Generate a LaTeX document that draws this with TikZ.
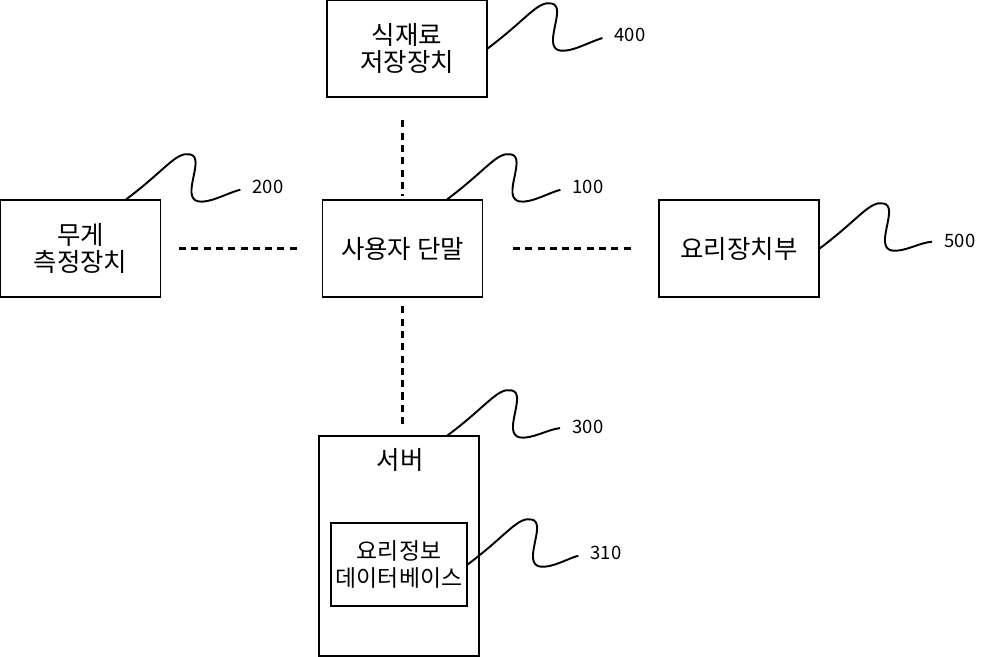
\documentclass[tikz,border=0pt]{standalone}
\usepackage{fontspec}
\setmainfont{Noto Sans CJK KR}
\usetikzlibrary{calc}

\begin{document}
\begin{tikzpicture}[
    x=0.02cm, y=-0.02cm,
    font=\fontsize{14.5}{15.5}\selectfont,
    box/.style={rectangle,draw,line width=0.7pt,align=center,minimum width=3.2cm,minimum height=1.94cm},
    num/.style={font=\fontsize{10.5}{12}\selectfont,inner sep=1pt},
    dashline/.style={line width=1.2pt,dash pattern=on 4pt off 3pt},
    leader/.style={line width=1.1pt,shorten >=6pt,
        to path={(\tikztostart) .. controls ($(\tikztostart)+(40,-30)$) and ($(\tikztostart)+(50,-48)$)
            .. ($(\tikztostart)+(64,-45)$) .. controls ($(\tikztostart)+(80,-42)$) and ($(\tikztostart)+(54,-2)$)
            .. ($(\tikztostart)+(72,2)$) .. controls ($(\tikztostart)+(84,4)$) and ($(\tikztostart)+(100,-6)$)
            .. (\tikztotarget)}}
]
\useasboundingbox (0,0) rectangle (986,656);

% 가운데 단말과 주변 장치
\node[box] (term) at (402.5,248.5) {사용자 단말};
\node[box] (stor) at (407,48.5) {식재료\\저장장치};
\node[box] (wgt) at (80.5,248.5) {무게\\측정장치};
\node[box] (cook) at (739,248.5) {요리장치부};

% 서버와 안쪽 데이터베이스
\node[box,minimum height=4.4cm] (srv) at (399,546) {};
\node (srvtxt) at (400,460) {서버};
\node[box,minimum width=2.72cm,minimum height=1.66cm,inner xsep=1pt,
    font=\fontsize{13}{15.5}\selectfont] (db) at (399,564.5) {요리정보\\데이터베이스};

% 참조 번호
\node[num] (n400) at (630,35) {400};
\node[num] (n200) at (268,187) {200};
\node[num] (n100) at (588,187) {100};
\node[num] (n500) at (960,241) {500};
\node[num] (n300) at (588,427) {300};
\node[num] (n310) at (606,553) {310};

% 점선 연결
\draw[dashline,shorten <=13pt,shorten >=2pt] (term.north |- stor.south) -- (term.north);
\draw[dashline,shorten <=10.2pt,shorten >=12.5pt] (wgt.east) -- (term.west);
\draw[dashline,shorten <=17pt,shorten >=13.6pt] (term.east) -- (cook.west);
\draw[dashline,shorten <=5pt,shorten >=5pt] (term.south) -- (term.south |- srv.north);

% 지시선
\draw[leader] (stor.east) to (n400.west);
\draw[leader] ($(wgt.north east)+(-35,0)$) to (n200.west);
\draw[leader] ($(term.north east)+(-36,0)$) to (n100.west);
\draw[leader] (cook.east) to (n500.west);
\draw[leader] ($(srv.north east)+(-32,0)$) to (n300.west);
\draw[leader] (db.east) to (n310.west);

\end{tikzpicture}
\end{document}
